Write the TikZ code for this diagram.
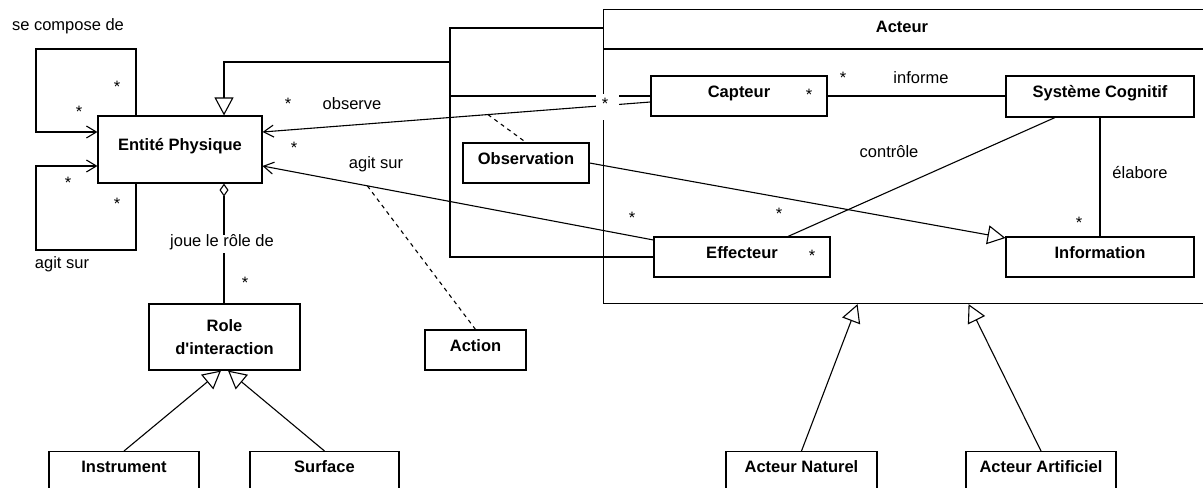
\documentclass[tikz,border=0pt]{standalone}
\usepackage{fontspec}
% plain family: no TeX ligature mapping, so the apostrophe stays straight
\newfontfamily\diagfont{Liberation Sans}
\usetikzlibrary{arrows.meta,calc}
\begin{document}
\begin{tikzpicture}[x=1bp,y=-1bp,
  line width=1.1bp,
  every node/.style={font=\diagfont\fontsize{16.5bp}{19bp}\selectfont, inner sep=0pt},
  clsbase/.style={draw, fill=white, font=\diagfont\fontsize{16.5bp}{23bp}\selectfont\bfseries},
  cls/.style={clsbase, text height=0.75em, text depth=0.45em},
  lbl/.style={text height=0.73em, text depth=0.21em},
  mult/.style={},
  gen/.style={-{Triangle[open,length=18bp,width=19bp]}},
  nav/.style={-{Straight Barb[length=10bp,width=12bp]}},
  dep/.style={dash pattern=on 4bp off 4bp},
  agg/.style={{Diamond[open,length=13bp,width=9bp]}-}
]
\useasboundingbox (0,0) rectangle (1203,488);
\clip (0,0) rectangle (1203,488);

% Acteur container with its title compartment
\node[draw, minimum width=601bp, minimum height=294bp, anchor=north west] (acteur) at (603,9) {};
\node[font=\diagfont\fontsize{16.5bp}{19bp}\selectfont\bfseries] (acteurtitle) at (902,27) {Acteur};
\draw ([yshift=-40bp]acteur.north west) -- ([yshift=-40bp]acteur.north east);

% classes
\node[cls, minimum width=164bp, minimum height=67bp] (ep) at (180,149.5) {Entité Physique};
\node[clsbase, minimum width=151bp, minimum height=66bp, align=center] (role) at (224.5,337) {Role\\d'interaction};
\node[cls, minimum width=101bp, minimum height=40bp] (act) at (475.5,350) {Action};
\node[cls, minimum width=126bp, minimum height=40bp] (obs) at (526,163) {Observation};
\node[cls, minimum width=176bp, minimum height=40bp] (cap) at (739,96) {Capteur};
\node[cls, minimum width=176bp, minimum height=40bp] (eff) at (742,257) {Effecteur};
\node[cls, minimum width=188bp, minimum height=41bp] (sc) at (1100,96.5) {Système Cognitif};
\node[cls, minimum width=188bp, minimum height=40bp] (info) at (1100,257) {Information};
\node[cls, minimum width=150bp, minimum height=38bp, anchor=north] (instr) at (124,451) {Instrument};
\node[cls, minimum width=149bp, minimum height=38bp, anchor=north] (surf) at (324.5,451) {Surface};
\node[cls, minimum width=151bp, minimum height=38bp, anchor=north] (an) at (801.5,451) {Acteur Naturel};
\node[cls, minimum width=150bp, minimum height=38bp, anchor=north] (aa) at (1041,451) {Acteur Artificiel};

% reflexive associations of Entité Physique
\coordinate (loopTop) at (36,49);
\coordinate (loopBot) at (36,250);
\draw[nav] ([xshift=-44bp]ep.north) |- (loopTop) |- ([yshift=17.5bp]ep.west);
\draw[nav] ([xshift=-44bp]ep.south) |- (loopBot) |- ([yshift=-16.5bp]ep.west);
\node[lbl] (lcompose) at (68,28) {se compose de};
\node[lbl] (lagit1) at (62,266) {agit sur};
\node[mult] (m1) at (117,86.5) {*};
\node[mult] (m2) at (79,111.5) {*};
\node[mult] (m3) at (68,182.5) {*};
\node[mult] (m4) at (117,203.5) {*};

% generalisation tree towards Entité Physique
\coordinate (j) at (450,62);
\draw (cap.west) -| (j);
\draw (eff.west) -| (j);
\draw ([yshift=-19bp]acteur.north west) -| (j);
\draw[gen] (j) -| ([xshift=44bp]ep.north);

% observe / agit sur
\coordinate (obsA) at ([yshift=-6bp]cap.west);
\coordinate (obsB) at ([yshift=17.5bp]ep.east);
\draw[nav] (obsA) -- (obsB);
\draw[dep] ($(obsA)!0.419!(obsB)$) -- (obs.north);
\coordinate (agA) at ([yshift=17bp]eff.west);
\coordinate (agB) at ([yshift=-16.5bp]ep.east);
\draw[nav] (agA) -- (agB);
\draw[dep] ($(agA)!0.732!(agB)$) -- (act.north);
\node[lbl] (lobserve) at (352,107) {observe};
\node[lbl] (lagit2) at (376,166) {agit sur};
\node[mult] (m5) at (288,103.5) {*};
\node[mult] (m6) at (294,147.5) {*};
\node[mult] (m7) at (632,217.5) {*};
\node[fill=white, minimum width=23bp, minimum height=26bp] (capstar) at (607.5,107) {};
\node[mult] (m8) at (605,103.5) {*};

% Observation is an Information
\draw[gen] (obs.east) -- ([yshift=19bp]info.west);

% associations inside Acteur
\draw (cap.east) -- (cap.east -| sc.west);
\draw ([xshift=-45bp]sc.south) -- ([xshift=46bp]eff.north);
\draw (sc.south) -- (info.north);
\node[lbl] (linforme) at (921,81) {informe};
\node[lbl] (lcontrole) at (889,155) {contrôle};
\node[lbl] (lelabore) at (1140,176) {élabore};
\node[mult] (m9) at (809,94.5) {*};
\node[mult] (m10) at (843,77.5) {*};
\node[mult] (m11) at (779,213.5) {*};
\node[mult] (m12) at (812,255.5) {*};
\node[mult] (m13) at (1079,222.5) {*};

% aggregation with Role d'interaction
\draw[agg] ([xshift=44bp]ep.south) -- ([xshift=44bp]ep.south |- role.north);
\node[lbl, fill=white, inner xsep=1bp, inner ysep=4bp] (ljoue) at (222,244) {joue le rôle de};
\node[mult] (m14) at (245,282.5) {*};

% specialisations
\draw[gen] (instr.north) -- ([xshift=-3.5bp]role.south);
\draw[gen] (surf.north) -- ([xshift=3.5bp]role.south);
\draw[gen] (an.north) -- ([xshift=-46.5bp]acteur.south);
\draw[gen] (aa.north) -- ([xshift=64.5bp]acteur.south);
\end{tikzpicture}
\end{document}
